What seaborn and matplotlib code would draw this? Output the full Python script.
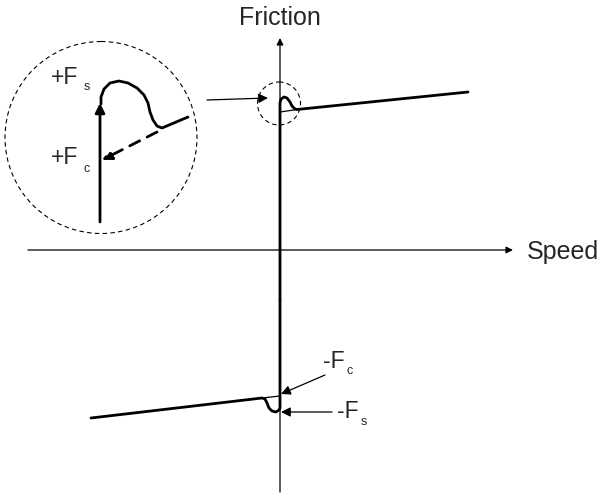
import matplotlib.pyplot as plt
import seaborn as sns
from matplotlib.patches import Circle

# --- Diagram data (pixel-like coordinates, y grows downward) ---
# upper branch: static peak then viscous slope
upper_x = [280, 280, 281, 284, 287, 290, 292, 295, 297, 468]
upper_y = [300, 103, 99, 97, 98, 102, 106, 109, 109.5, 92]
# lower branch: mirrored dip then viscous slope
lower_x = [280, 280, 279, 276, 272, 269, 267, 265, 262, 91]
lower_y = [300, 408, 410, 412, 411, 408, 403, 399, 398, 418]
# thin Coulomb extensions
coul_up_x, coul_up_y = [280, 297], [112, 109.5]
coul_lo_x, coul_lo_y = [262, 280], [398, 396]
# zoomed inset curve
inset_x = [101, 101, 104, 110, 119, 128, 137, 144, 148, 150, 153, 157, 162, 188]
inset_y = [104, 97, 89, 83, 81, 83, 88, 95, 103, 112, 120, 126, 128, 117]

sns.set_style('white')
plt.rcParams['font.family'] = ['Liberation Sans', 'DejaVu Sans']

fig = plt.figure(figsize=(6.05, 4.97), dpi=100)
ax = fig.add_axes([0, 0, 1, 1])
ax.set_xlim(0, 605)
ax.set_ylim(497, 0)
ax.axis('off')

thin = dict(arrowstyle='-|>', color='black', lw=0.9, mutation_scale=10,
            shrinkA=0, shrinkB=0)

# axes arrows
ax.annotate('', xy=(280, 38), xytext=(280, 492), arrowprops=thin)
ax.annotate('', xy=(513, 250), xytext=(28, 250), arrowprops=thin)
ax.text(280, 18, 'Friction', ha='center', va='center', fontsize=18)
ax.text(527, 252, 'Speed', ha='left', va='center', fontsize=18)

# friction curve
sns.lineplot(x=upper_x, y=upper_y, sort=False, estimator=None, color='black', lw=2, ax=ax)
sns.lineplot(x=lower_x, y=lower_y, sort=False, estimator=None, color='black', lw=2, ax=ax)
sns.lineplot(x=coul_up_x, y=coul_up_y, sort=False, estimator=None, color='black', lw=0.9, ax=ax)
sns.lineplot(x=coul_lo_x, y=coul_lo_y, sort=False, estimator=None, color='black', lw=0.9, ax=ax)

# small dashed circle and pointer
ax.add_patch(Circle((279, 103.5), 21.5, fill=False, ls=(0, (4, 3)), lw=0.8, color='black'))
ax.annotate('', xy=(268, 98), xytext=(207, 100), arrowprops=dict(thin, mutation_scale=14))

# inset
ax.add_patch(Circle((101, 137.5), 96, fill=False, ls=(0, (4, 3)), lw=0.8, color='black'))
ax.annotate('', xy=(100, 103), xytext=(100, 222),
            arrowprops=dict(arrowstyle='-|>', color='black', lw=2, mutation_scale=14,
                            shrinkA=0, shrinkB=0))
sns.lineplot(x=inset_x, y=inset_y, sort=False, estimator=None, color='black', lw=2, ax=ax)
ax.annotate('', xy=(102, 160), xytext=(157, 132),
            arrowprops=dict(arrowstyle='-|>', color='black', lw=2, ls=(0, (4, 3)),
                            mutation_scale=14, shrinkA=0, shrinkB=0))

# lower pointers
ax.annotate('', xy=(281, 394), xytext=(325, 375), arrowprops=dict(thin, mutation_scale=14))
ax.annotate('', xy=(281, 412), xytext=(332, 412), arrowprops=dict(thin, mutation_scale=14))


def label(x, y, main, sub, gap, dy):
    t = ax.text(x, y, main, ha='left', va='center', fontsize=16.5)
    fig.canvas.draw()
    bb = t.get_window_extent().transformed(ax.transData.inverted())
    ax.text(bb.x1 + gap, y + dy, sub, ha='left', va='center', fontsize=9)


label(51, 78, '+F', 's', 5, 9)
label(51, 158, '+F', 'c', 5, 11)
label(323, 362, '-F', 'c', 2, 9)
label(337, 411, '-F', 's', 2, 11)

fig.savefig('out.png', dpi=100)
